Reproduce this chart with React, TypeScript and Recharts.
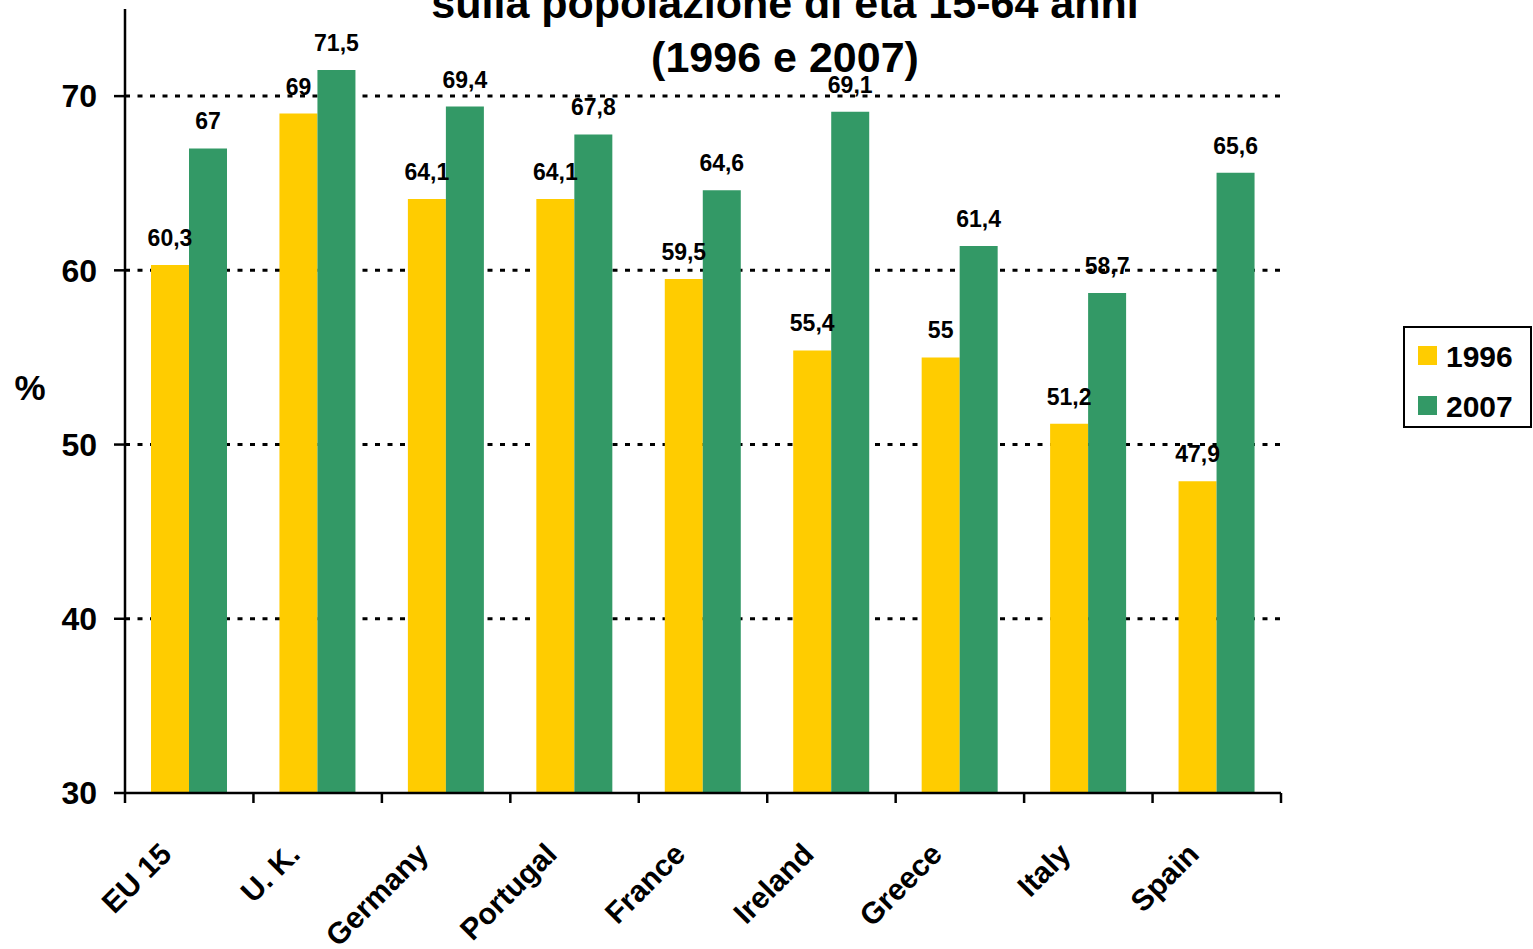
import React from "react";
import { BarChart, Bar, XAxis, YAxis, CartesianGrid, LabelList } from "recharts";

const categories = ["EU 15", "U. K.", "Germany", "Portugal", "France", "Ireland", "Greece", "Italy", "Spain"];
const values1996 = [60.3, 69, 64.1, 64.1, 59.5, 55.4, 55, 51.2, 47.9];
const values2007 = [67, 71.5, 69.4, 67.8, 64.6, 69.1, 61.4, 58.7, 65.6];
const yTicks = [30, 40, 50, 60, 70];
const gridValues = [40, 50, 60, 70];
const titleLines = ["sulla popolazione di età 15-64 anni", "(1996 e 2007)"];

const YELLOW = "#FFCC00";
const GREEN = "#339966";
const FONT = "Arial, 'Liberation Sans', sans-serif";

const data = categories.map((name, i) => ({
  name,
  y1996: values1996[i],
  y2007: values2007[i],
}));

const fmt = (v: number) => String(v).replace(".", ",");

// rotated category label plus tick marks on the band edges
function CategoryTick(props: any) {
  const { x, y, payload } = props;
  const half = payload?.offset ?? 0;
  const isLast = payload?.index === categories.length - 1;
  const ax = x - 16;
  const ay = y + 63;
  return (
    <g>
      <line x1={x - half} x2={x - half} y1={y} y2={y + 10} stroke="#000" strokeWidth={2.5} />
      {isLast && (
        <line x1={x + half} x2={x + half} y1={y} y2={y + 10} stroke="#000" strokeWidth={2.5} />
      )}
      <text
        x={ax}
        y={ay}
        transform={`rotate(-45, ${ax}, ${ay})`}
        textAnchor="end"
        fontFamily={FONT}
        fontWeight="bold"
        fontSize={30}
        fill="#000"
      >
        {payload.value}
      </text>
    </g>
  );
}

export default function App() {
  return (
    <div style={{ position: "absolute", left: 0, top: 0, width: 1533, height: 949, background: "#fff" }}>
      <BarChart
        width={1533}
        height={949}
        data={data}
        barGap={0}
        barSize={38}
        margin={{ top: 9, right: 252, left: 0, bottom: 0 }}
      >
        <CartesianGrid
          vertical={false}
          horizontalValues={gridValues}
          stroke="#000"
          strokeWidth={3}
          strokeDasharray="5 7.5"
        />
        <XAxis
          dataKey="name"
          height={156}
          interval={0}
          tickLine={false}
          tickSize={0}
          tickMargin={0}
          axisLine={{ stroke: "#000", strokeWidth: 2.5 }}
          tick={<CategoryTick />}
        />
        <YAxis
          width={125}
          domain={[30, 75]}
          ticks={yTicks}
          allowDataOverflow
          tickSize={11}
          tickMargin={17}
          axisLine={{ stroke: "#000", strokeWidth: 2.5 }}
          tickLine={{ stroke: "#000", strokeWidth: 2.5 }}
          tick={{ fontSize: 32, fontWeight: "bold", fill: "#000", fontFamily: FONT }}
        />
        <Bar dataKey="y1996" fill={YELLOW} isAnimationActive={false}>
          <LabelList
            dataKey="y1996"
            position="top"
            offset={19}
            formatter={fmt}
            style={{ fontSize: 23, fontWeight: "bold", fill: "#000", fontFamily: FONT }}
          />
        </Bar>
        <Bar dataKey="y2007" fill={GREEN} isAnimationActive={false}>
          <LabelList
            dataKey="y2007"
            position="top"
            offset={19}
            formatter={fmt}
            style={{ fontSize: 23, fontWeight: "bold", fill: "#000", fontFamily: FONT }}
          />
        </Bar>
      </BarChart>

      <svg
        width={1533}
        height={949}
        style={{ position: "absolute", left: 0, top: 0, pointerEvents: "none" }}
        fontFamily={FONT}
        fontWeight="bold"
      >
        {titleLines.map((t, i) => (
          <text key={t} x={785} y={18 + i * 54} textAnchor="middle" fontSize={43} fill="#000">
            {t}
          </text>
        ))}
        <text x={30} y={400} textAnchor="middle" fontSize={35} fill="#000">
          %
        </text>
        <rect x={1404} y={327} width={127} height={100} fill="#fff" stroke="#000" strokeWidth={2} />
        <rect x={1418} y={346} width={19} height={19} fill={YELLOW} />
        <text x={1446} y={367} fontSize={30} fill="#000">1996</text>
        <rect x={1418} y={396} width={19} height={19} fill={GREEN} />
        <text x={1446} y={417} fontSize={30} fill="#000">2007</text>
      </svg>
    </div>
  );
}
